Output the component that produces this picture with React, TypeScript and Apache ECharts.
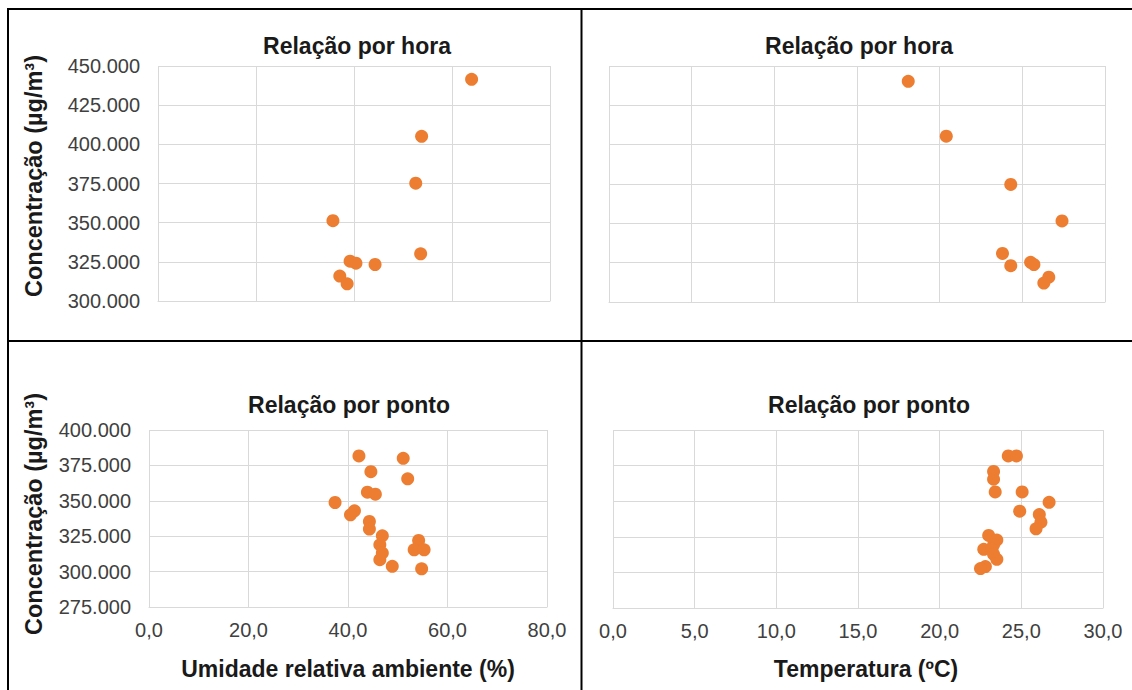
import React, { useEffect, useRef } from "react";
import * as echarts from "echarts";

// --- Relação por hora ---
const hourHumidity = [64.0, 53.8, 52.6, 35.7, 53.6, 39.2, 40.4, 44.3, 37.1, 38.6];
const hourConcHumidity = [441500, 405100, 375200, 351300, 330100, 325400, 324100, 323300, 315900, 311000];
const hourTemperature = [18.1, 20.4, 24.3, 27.4, 23.8, 24.3, 25.5, 25.7, 26.6, 26.3];
const hourConcTemperature = [440300, 405400, 374700, 351500, 330900, 323100, 325200, 323800, 315800, 312000];

// --- Relação por ponto ---
const pointHumidity = [42.2, 51.1, 44.6, 52.0, 43.9, 45.5, 37.4, 41.3, 40.5, 44.3, 44.3, 46.9, 54.2, 46.4, 53.3, 55.3, 46.9, 46.4, 48.9, 54.8];
const pointConcHumidity = [381700, 380000, 370600, 365500, 356100, 354700, 348800, 342900, 340100, 335400, 330000, 325300, 322000, 318900, 315400, 315400, 313100, 308400, 303700, 302000];
const pointTemperature = [24.2, 24.7, 23.3, 23.3, 23.4, 25.05, 26.7, 24.9, 26.1, 26.2, 25.9, 23.0, 23.5, 23.3, 22.7, 23.2, 23.3, 23.5, 22.8, 22.5];
const pointConcTemperature = [381800, 381800, 370900, 365500, 356500, 356500, 349200, 343000, 340600, 335300, 330600, 326000, 322700, 319500, 316200, 316200, 312700, 309200, 304100, 302700];

const titles = ["Relação por hora", "Relação por hora", "Relação por ponto", "Relação por ponto"];
const yTitle = "Concentração (µg/m³)";
const xTitles = ["Umidade relativa ambiente (%)", "Temperatura (ºC)"];

const FONT = '"Liberation Sans", Arial, Helvetica, sans-serif';
const GRID_COLOR = "#d9d9d9";
const LABEL_COLOR = "#404040";
const TEXT_COLOR = "#1a1a1a";
const DOT = "#ED7D31";

const fmtThousands = (v: number) =>
  Math.round(v).toString().replace(/\B(?=(\d{3})+(?!\d))/g, ".");
const fmtDecimal = (v: number) => v.toFixed(1).replace(".", ",");

function makeX(gridIndex: number, max: number, interval: number, showLabels: boolean) {
  return {
    type: "value",
    gridIndex,
    min: 0,
    max,
    interval,
    axisLine: { show: true, lineStyle: { color: GRID_COLOR, width: 1 } },
    axisTick: { show: false },
    splitLine: { show: true, lineStyle: { color: GRID_COLOR, width: 1 } },
    axisLabel: {
      show: showLabels,
      formatter: fmtDecimal,
      fontSize: 20,
      color: LABEL_COLOR,
      fontFamily: FONT,
      margin: 13,
    },
  };
}

function makeY(gridIndex: number, min: number, max: number, showLabels: boolean) {
  return {
    type: "value",
    gridIndex,
    min,
    max,
    interval: 25000,
    axisLine: { show: false },
    axisTick: { show: false },
    splitLine: { show: true, lineStyle: { color: GRID_COLOR, width: 1 } },
    axisLabel: {
      show: showLabels,
      formatter: fmtThousands,
      fontSize: 20,
      color: LABEL_COLOR,
      fontFamily: FONT,
      margin: 18,
    },
  };
}

function zip(xs: number[], ys: number[]) {
  return xs.map((x, i) => [x, ys[i]]);
}

function text(x: number, y: number, t: string, size: number, rotation = 0) {
  return {
    type: "text",
    x,
    y,
    rotation,
    style: {
      text: t,
      font: `bold ${size}px ${FONT}`,
      fill: TEXT_COLOR,
      textAlign: "center",
      align: "center",
      textVerticalAlign: "middle",
      verticalAlign: "middle",
    },
  };
}

function line(x1: number, y1: number, x2: number, y2: number) {
  return {
    type: "line",
    shape: { x1, y1, x2, y2 },
    style: { stroke: "#000", lineWidth: 2 },
  };
}

export default function App() {
  const ref = useRef<HTMLDivElement>(null);

  useEffect(() => {
    if (!ref.current) return;
    const chart = echarts.init(ref.current, null, { renderer: "svg", width: 1132, height: 690 });

    const series = [
      zip(hourHumidity, hourConcHumidity),
      zip(hourTemperature, hourConcTemperature),
      zip(pointHumidity, pointConcHumidity),
      zip(pointTemperature, pointConcTemperature),
    ].map((data, i) => ({
      type: "scatter",
      xAxisIndex: i,
      yAxisIndex: i,
      data,
      symbol: "circle",
      symbolSize: 13,
      itemStyle: { color: DOT, opacity: 1 },
      emphasis: { disabled: true },
    }));

    chart.setOption({
      animation: false,
      backgroundColor: "#ffffff",
      grid: [
        { left: 158, top: 66, width: 392, height: 235 },
        { left: 609, top: 66, width: 496, height: 236 },
        { left: 149, top: 430, width: 398, height: 177 },
        { left: 613, top: 430, width: 490, height: 178 },
      ],
      xAxis: [
        makeX(0, 80, 20, false),
        makeX(1, 30, 5, false),
        makeX(2, 80, 20, true),
        makeX(3, 30, 5, true),
      ],
      yAxis: [
        makeY(0, 300000, 450000, true),
        makeY(1, 300000, 450000, false),
        makeY(2, 275000, 400000, true),
        makeY(3, 275000, 400000, false),
      ],
      series,
      graphic: [
        line(7, 9, 1132, 9),
        line(8, 8, 8, 690),
        line(581.5, 9, 581.5, 690),
        line(8, 341, 1132, 341),
        text(357, 46, titles[0], 23),
        text(859, 46, titles[1], 23),
        text(349, 405, titles[2], 23),
        text(869, 405, titles[3], 23),
        text(34, 176, yTitle, 23.5, Math.PI / 2),
        text(34, 514, yTitle, 23.5, Math.PI / 2),
        text(348, 669, xTitles[0], 23),
        text(866, 669, xTitles[1], 23),
      ],
    });

    return () => chart.dispose();
  }, []);

  return (
    <div
      ref={ref}
      style={{ position: "fixed", left: 0, top: 0, width: 1132, height: 690, background: "#fff" }}
    />
  );
}
